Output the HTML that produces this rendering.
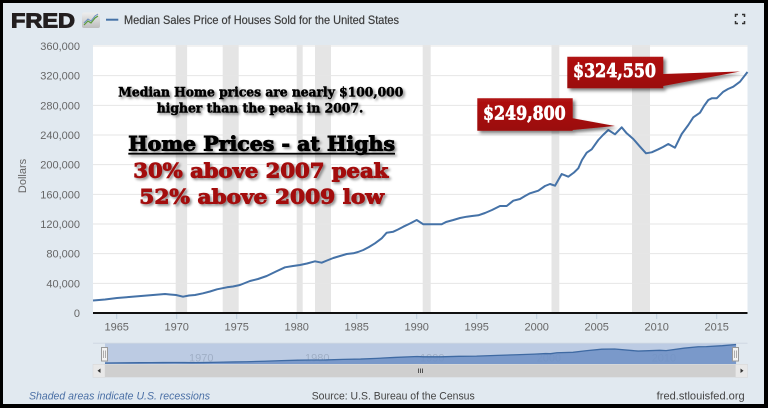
<!DOCTYPE html>
<html>
<head>
<meta charset="utf-8">
<style>
html,body{margin:0;padding:0;background:#000;}
svg{display:block;}
</style>
</head>
<body>
<svg width="768" height="408" viewBox="0 0 768 408" xmlns="http://www.w3.org/2000/svg">
<defs>
  <filter id="ts" x="-10%" y="-30%" width="120%" height="170%">
    <feDropShadow dx="1.8" dy="1.8" stdDeviation="1.2" flood-color="#000" flood-opacity="0.45"/>
  </filter>
  <filter id="bs" x="-10%" y="-30%" width="130%" height="170%">
    <feDropShadow dx="2.5" dy="2.5" stdDeviation="1.5" flood-color="#000" flood-opacity="0.5"/>
  </filter>
  <linearGradient id="ic" x1="0" y1="0" x2="0" y2="1">
    <stop offset="0" stop-color="#eeeeee"/>
    <stop offset="1" stop-color="#bdbdbd"/>
  </linearGradient>
  <linearGradient id="rb" x1="0" y1="0" x2="0" y2="1">
    <stop offset="0" stop-color="#b01212"/>
    <stop offset="1" stop-color="#9a0b0b"/>
  </linearGradient>
</defs>

<!-- border + background -->
<rect x="0" y="0" width="768" height="408" fill="#000"/>
<rect x="3" y="3" width="761" height="401" fill="#e1e9f0"/>

<!-- FRED logo -->
<text x="11" y="27.5" font-family="Liberation Sans, sans-serif" font-weight="bold" font-size="20" fill="#231f20" stroke="#231f20" stroke-width="1" textLength="64" lengthAdjust="spacingAndGlyphs">FRED</text>
<rect x="82" y="12.5" width="18" height="15.5" rx="2" fill="url(#ic)"/>
<polyline points="84,25 88,21 91,23 95,18 98,16" fill="none" stroke="#5a9c3a" stroke-width="1.2"/>
<polyline points="84,23 88,19 91,21 95,16 98,14" fill="none" stroke="#6a8fc0" stroke-width="1"/>

<!-- title -->
<line x1="106" y1="19.7" x2="118.3" y2="19.7" stroke="#4572a7" stroke-width="2"/>
<text x="124" y="24" font-family="Liberation Sans, sans-serif" font-size="12" fill="#3c3c3c" stroke="#3c3c3c" stroke-width="0.2" textLength="275" lengthAdjust="spacingAndGlyphs">Median Sales Price of Houses Sold for the United States</text>

<!-- expand icon -->
<g stroke="#333" stroke-width="1.5" fill="none">
  <polyline points="735.5,17 735.5,14.5 738,14.5"/>
  <polyline points="742,14.5 744.5,14.5 744.5,17"/>
  <polyline points="735.5,21 735.5,23.5 738,23.5"/>
  <polyline points="742,23.5 744.5,23.5 744.5,21"/>
</g>

<!-- plot area -->
<rect x="93" y="45" width="654.5" height="268" fill="#ffffff"/>

<!-- recession bands -->
<g fill="#e5e5e5">
  <rect x="175.7" y="45" width="11.4" height="268"/>
  <rect x="222.7" y="45" width="16" height="268"/>
  <rect x="296.7" y="45" width="6" height="268"/>
  <rect x="315" y="45" width="16" height="268"/>
  <rect x="422.7" y="45" width="8" height="268"/>
  <rect x="551.5" y="45" width="7.8" height="268"/>
  <rect x="632" y="45" width="18" height="268"/>
</g>

<!-- gridlines -->
<g stroke="#e6e6e6" stroke-width="1">
  <line x1="93" y1="46" x2="747.5" y2="46"/>
  <line x1="93" y1="75.67" x2="747.5" y2="75.67"/>
  <line x1="93" y1="105.33" x2="747.5" y2="105.33"/>
  <line x1="93" y1="135" x2="747.5" y2="135"/>
  <line x1="93" y1="164.67" x2="747.5" y2="164.67"/>
  <line x1="93" y1="194.33" x2="747.5" y2="194.33"/>
  <line x1="93" y1="224" x2="747.5" y2="224"/>
  <line x1="93" y1="253.67" x2="747.5" y2="253.67"/>
  <line x1="93" y1="283.33" x2="747.5" y2="283.33"/>
</g>

<!-- y labels -->
<g font-family="Liberation Sans, sans-serif" font-size="11" fill="#666" text-anchor="end">
  <text x="80" y="50">360,000</text>
  <text x="80" y="79.7">320,000</text>
  <text x="80" y="109.3">280,000</text>
  <text x="80" y="139">240,000</text>
  <text x="80" y="168.7">200,000</text>
  <text x="80" y="198.3">160,000</text>
  <text x="80" y="228">120,000</text>
  <text x="80" y="257.7">80,000</text>
  <text x="80" y="287.3">40,000</text>
  <text x="80" y="317">0</text>
</g>
<text x="0" y="0" transform="translate(26,176) rotate(-90)" font-family="Liberation Sans, sans-serif" font-size="11" fill="#666" text-anchor="middle">Dollars</text>

<!-- x ticks -->
<g stroke="#c0d0e0" stroke-width="1">
  <line x1="116.7" y1="313" x2="116.7" y2="319"/>
  <line x1="176.7" y1="313" x2="176.7" y2="319"/>
  <line x1="236.7" y1="313" x2="236.7" y2="319"/>
  <line x1="296.7" y1="313" x2="296.7" y2="319"/>
  <line x1="356.7" y1="313" x2="356.7" y2="319"/>
  <line x1="416.7" y1="313" x2="416.7" y2="319"/>
  <line x1="476.7" y1="313" x2="476.7" y2="319"/>
  <line x1="536.7" y1="313" x2="536.7" y2="319"/>
  <line x1="596.7" y1="313" x2="596.7" y2="319"/>
  <line x1="656.7" y1="313" x2="656.7" y2="319"/>
  <line x1="716.7" y1="313" x2="716.7" y2="319"/>
</g>
<g font-family="Liberation Sans, sans-serif" font-size="11" fill="#666" text-anchor="middle">
  <text x="116.7" y="330.5">1965</text>
  <text x="176.7" y="330.5">1970</text>
  <text x="236.7" y="330.5">1975</text>
  <text x="296.7" y="330.5">1980</text>
  <text x="356.7" y="330.5">1985</text>
  <text x="416.7" y="330.5">1990</text>
  <text x="476.7" y="330.5">1995</text>
  <text x="536.7" y="330.5">2000</text>
  <text x="596.7" y="330.5">2005</text>
  <text x="656.7" y="330.5">2010</text>
  <text x="716.7" y="330.5">2015</text>
</g>

<!-- axis line -->
<line x1="93" y1="313" x2="747.5" y2="313" stroke="#111" stroke-width="2"/>

<!-- data series -->
<polyline fill="none" stroke="#4572a7" stroke-width="2" stroke-linejoin="round" points="93,300.5 105,299.5 117,298 129,297 141,296 153,295 165,294 170,294.5 176,295 183,296.7 189,295.5 195,295 203,293.3 210,291.5 217,289.3 227,287.3 233,286.5 240,285 250,281 258,279 266.7,276 276,271.5 285,267.3 293,266 300,265 307,263.5 315,261.3 321.7,262.7 327,260.5 333.3,258 340,256 346.7,254 353.3,253.3 358,252 363.3,250 369,247 375,243.3 381.7,238.3 386.7,232.7 393.3,231.7 398,229.5 403.3,226.7 410,223.5 416.7,220 423.3,224.3 430,224.3 441.7,224.3 446,222 453.3,220 460,218 466.7,216.7 472,216 478.3,215.3 485,213 492,210 500,206 506.7,206 513.3,200.7 520,199 525,196 530,193.3 538.3,190.7 545,186 550,184 555,185.7 561.7,174 568.3,176.7 574,172.5 578.3,168.3 582,160 586.7,152.7 591.7,149.3 598.3,140 603,135 608.3,130 615,134.3 621.7,127.3 626.7,133.3 633.3,139 640,146.7 646,153.3 651.7,152.3 658.3,149.3 663,147 668.3,144 675,147.7 681.7,134 688.3,125 693.3,117.3 700,112.7 704,106 708.3,100 711.7,98.3 716.7,98.3 723.3,91.7 728,89 733.3,86.7 740,81.7 747.5,72"/>

<!-- annotation text -->
<g filter="url(#ts)" font-family="DejaVu Serif, Liberation Serif, serif" font-weight="bold">
  <text x="118.3" y="96.7" font-size="13" fill="#000" stroke="#000" stroke-width="0.5" textLength="285" lengthAdjust="spacingAndGlyphs">Median Home prices are nearly $100,000</text>
  <text x="156.7" y="112.5" font-size="13" fill="#000" stroke="#000" stroke-width="0.5" textLength="206.6" lengthAdjust="spacingAndGlyphs">higher than the peak in 2007.</text>
  <text x="128.3" y="150.7" font-size="19.5" fill="#000" stroke="#000" stroke-width="0.9" textLength="266.7" lengthAdjust="spacingAndGlyphs">Home Prices - at Highs</text>
  <rect x="128.3" y="152.8" width="266.7" height="1.8" fill="#000"/>
  <text x="133.3" y="177.3" font-size="20" fill="#a30b0b" stroke="#a30b0b" stroke-width="0.9" textLength="255" lengthAdjust="spacingAndGlyphs">30% above 2007 peak</text>
  <text x="139.3" y="203.3" font-size="20" fill="#a30b0b" stroke="#a30b0b" stroke-width="0.9" textLength="244.7" lengthAdjust="spacingAndGlyphs">52% above 2009 low</text>
</g>

<!-- callouts -->
<g filter="url(#bs)">
  <polygon points="567.3,56.7 663.3,56.7 663.3,74 740,71.5 663.3,86 663.3,88.3 567.3,88.3" fill="url(#rb)"/>
  <polygon points="477.3,98.3 572.7,98.3 572.7,118.3 615,126 572.7,130 572.7,130.7 477.3,130.7" fill="url(#rb)"/>
</g>
<g font-family="DejaVu Serif, Liberation Serif, serif" font-weight="bold" fill="#ffffff" stroke="#ffffff" stroke-width="0.7">
  <text x="573" y="77" font-size="19" textLength="83" lengthAdjust="spacingAndGlyphs">$324,550</text>
  <text x="483" y="119.5" font-size="19" textLength="82.7" lengthAdjust="spacingAndGlyphs">$249,800</text>
</g>

<!-- navigator -->
<rect x="93" y="343" width="654.5" height="21" fill="#e1e9f0"/>
<line x1="93" y1="343.3" x2="747.5" y2="343.3" stroke="#cfd8e2" stroke-width="1"/>
<rect x="105" y="343.5" width="630.6" height="20.5" fill="#bccbe3"/>
<g font-family="Liberation Sans, sans-serif" font-size="11" fill="#8c9bb2" opacity="0.6">
  <text x="189" y="361.5">1970</text>
  <text x="305" y="361.5">1980</text>
  <text x="420" y="361.5">1990</text>
  <text x="536.7" y="361.5">2000</text>
  <text x="651.7" y="361.5">2010</text>
</g>
<g transform="matrix(0.9642 0 0 0.0809 15.33 338.68)">
  <polygon fill="#6f91c6" fill-opacity="0.85" points="93,313 93,300.5 105,299.5 117,298 129,297 141,296 153,295 165,294 176,295 183,296.7 195,295 210,291.5 227,287.3 240,285 258,279 276,271.5 293,266 307,263.5 321.7,262.7 340,256 358,252 375,243.3 393.3,231.7 416.7,220 423.3,224.3 441.7,224.3 460,218 478.3,215.3 500,206 520,199 538.3,190.7 550,184 555,185.7 561.7,174 578.3,168.3 591.7,149.3 608.3,130 621.7,127.3 640,146.7 646,153.3 668.3,144 675,147.7 693.3,117.3 708.3,100 716.7,98.3 733.3,86.7 747.5,72 747.5,313"/>
  <polyline fill="none" stroke="#3f6aa3" stroke-width="1.3" vector-effect="non-scaling-stroke" points="93,300.5 105,299.5 117,298 129,297 141,296 153,295 165,294 176,295 183,296.7 195,295 210,291.5 227,287.3 240,285 258,279 276,271.5 293,266 307,263.5 321.7,262.7 340,256 358,252 375,243.3 393.3,231.7 416.7,220 423.3,224.3 441.7,224.3 460,218 478.3,215.3 500,206 520,199 538.3,190.7 550,184 555,185.7 561.7,174 578.3,168.3 591.7,149.3 608.3,130 621.7,127.3 640,146.7 646,153.3 668.3,144 675,147.7 693.3,117.3 708.3,100 716.7,98.3 733.3,86.7 747.5,72"/>
</g>
<!-- handles -->
<g>
  <rect x="101.5" y="347.5" width="6" height="13.5" fill="#f2f2f2" stroke="#999" stroke-width="1"/>
  <line x1="103.5" y1="350.5" x2="103.5" y2="358" stroke="#999" stroke-width="0.8"/>
  <line x1="105.5" y1="350.5" x2="105.5" y2="358" stroke="#999" stroke-width="0.8"/>
  <rect x="732.5" y="347.5" width="6" height="13.5" fill="#f2f2f2" stroke="#999" stroke-width="1"/>
  <line x1="734.5" y1="350.5" x2="734.5" y2="358" stroke="#999" stroke-width="0.8"/>
  <line x1="736.5" y1="350.5" x2="736.5" y2="358" stroke="#999" stroke-width="0.8"/>
</g>
<!-- scrollbar -->
<rect x="93" y="364.3" width="654.5" height="13" fill="#cfcfcf"/>
<rect x="93" y="364.3" width="12" height="13" fill="#e8e8e8" stroke="#d6d6d6" stroke-width="0.5"/>
<rect x="735.5" y="364.3" width="12" height="13" fill="#e8e8e8" stroke="#d6d6d6" stroke-width="0.5"/>
<polygon points="100.5,368.5 100.5,373 97.5,370.8" fill="#333"/>
<polygon points="740.5,368.5 740.5,373 743.5,370.8" fill="#333"/>
<g stroke="#333" stroke-width="0.8">
  <line x1="418.5" y1="368.5" x2="418.5" y2="373"/>
  <line x1="420.5" y1="368.5" x2="420.5" y2="373"/>
  <line x1="422.5" y1="368.5" x2="422.5" y2="373"/>
</g>

<!-- footer -->
<text x="29" y="399.5" font-family="Liberation Sans, sans-serif" font-style="italic" font-size="11" fill="#4a6fa5" textLength="181" lengthAdjust="spacingAndGlyphs">Shaded areas indicate U.S. recessions</text>
<text x="311.7" y="399.5" font-family="Liberation Sans, sans-serif" font-size="11" fill="#444" textLength="163" lengthAdjust="spacingAndGlyphs">Source: U.S. Bureau of the Census</text>
<text x="656.7" y="399.5" font-family="Liberation Sans, sans-serif" font-size="11" fill="#444" textLength="88" lengthAdjust="spacingAndGlyphs">fred.stlouisfed.org</text>
</svg>
</body>
</html>
